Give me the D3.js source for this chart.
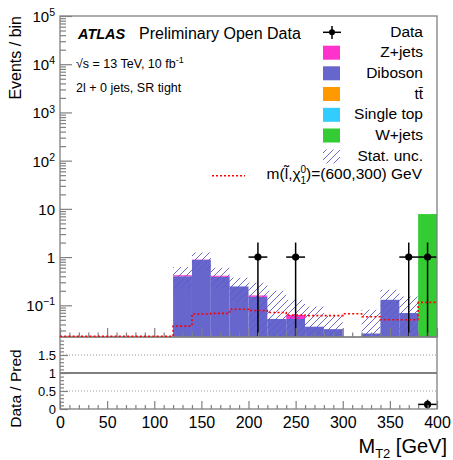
<!DOCTYPE html>
<html>
<head>
<meta charset="utf-8">
<script src="https://cdn.jsdelivr.net/npm/d3@7"></script>
<style>
  body { margin: 0; background: #fff; }
  svg { display: block; font-family: "Liberation Sans", Arial, Helvetica, sans-serif; }
</style>
</head>
<body>
<svg id="chart" width="453" height="460"></svg>
<script>
// M_T2 distribution, 20 GeV bins from 0 to 400 GeV
const binLow = [0, 20, 40, 60, 80, 100, 120, 140, 160, 180, 200, 220, 240, 260, 280, 300, 320, 340, 360, 380];
const binWidth = 20;

// Expected events per bin for each background
const zJets     = [0, 0, 0, 0, 0, 0, 0.02, 0.01, 0.02, 0, 0.01, 0, 0.011, 0, 0, 0, 0, 0, 0, 0];
const diboson   = [0, 0, 0, 0, 0, 0, 0.40, 0.88, 0.39, 0.246, 0.15, 0.052, 0.052, 0.036, 0.032, 0, 0.026, 0.13, 0.069, 0];
const ttbar     = [0, 0, 0, 0, 0, 0, 0, 0, 0, 0, 0, 0, 0, 0, 0, 0, 0, 0, 0, 0];
const singleTop = [0, 0, 0, 0, 0, 0, 0, 0, 0, 0, 0, 0, 0, 0, 0, 0, 0, 0, 0, 0];
const wJets     = [0, 0, 0, 0, 0, 0, 0, 0, 0, 0, 0, 0, 0, 0, 0, 0, 0, 0, 0, 7.8];
// Statistical uncertainty on the summed prediction
const statUnc   = [0, 0, 0, 0, 0, 0, 0.20, 0.36, 0.19, 0.128, 0.134, 0.148, 0.067, 0.058, 0.028, 0, 0.055, 0.08, 0.083, 0];
// Signal m(slepton, neutralino) = (600, 300) GeV
const signal    = [0, 0, 0, 0, 0, 0, 0.037, 0.066, 0.068, 0.083, 0.078, 0.071, 0.063, 0.061, 0.061, 0.067, 0.058, 0.05, 0.05, 0.115];

// Observed events (bin centres)
const dataCenters = [210, 250, 370, 390];
const dataCounts  = [1, 1, 1, 1];

// Axis ticks
const xMajorTicks = [0, 50, 100, 150, 200, 250, 300, 350, 400];
const yDecades = [0.1, 1, 10, 100, 1000, 10000, 100000];
const ratioMajorTicks = [0, 0.5, 1, 1.5];

const colors = {
  zjets: "#ff33cc",
  diboson: "#6666cc",
  ttbar: "#ff9900",
  singletop: "#33ccff",
  wjets: "#33cc33"
};
const hatchColor = "#5a5ac8";

const svg = d3.select("#chart");
const L = 60, R = 437, T = 16, MB = 337, RB = 409;
const axisColor = "#808080";

const x = d3.scaleLinear().domain([0, 400]).range([L, R]);
const yMin = 0.022;
const y = d3.scaleLog().domain([yMin, 1e5]).range([MB, T]);
const yv = v => (v > yMin ? y(v) : y(yMin));
const yr = d3.scaleLinear().domain([0, 2]).range([RB, MB]);

// defs: clip and hatch pattern
const defs = svg.append("defs");
defs.append("clipPath").attr("id", "mainClip")
  .append("rect").attr("x", L).attr("y", T).attr("width", R - L).attr("height", MB - T + 2);
const pat = defs.append("pattern").attr("id", "hatch")
  .attr("patternUnits", "userSpaceOnUse").attr("width", 7).attr("height", 7);
pat.append("path").attr("d", "M0,7 L7,0 M-1,1 L1,-1 M6,8 L8,6")
  .attr("stroke", hatchColor).attr("stroke-width", 0.9).attr("fill", "none");

// Stacked backgrounds
const rows = binLow.map((lo, i) => ({
  lo,
  wjets: wJets[i], singletop: singleTop[i], ttbar: ttbar[i], diboson: diboson[i], zjets: zJets[i]
}));
const stackKeys = ["wjets", "singletop", "ttbar", "diboson", "zjets"];
const layers = d3.stack().keys(stackKeys)(rows);

const main = svg.append("g").attr("clip-path", "url(#mainClip)");
layers.forEach(layer => {
  main.append("g").attr("fill", colors[layer.key])
    .selectAll("rect")
    .data(layer.filter(d => d[1] - d[0] > 0))
    .join("rect")
    .attr("x", d => x(d.data.lo))
    .attr("width", d => x(d.data.lo + binWidth) - x(d.data.lo))
    .attr("y", d => yv(d[1]))
    .attr("height", d => yv(d[0]) - yv(d[1]));
});

// Statistical uncertainty band
const totals = rows.map(r => stackKeys.reduce((s, k) => s + r[k], 0));
main.append("g").selectAll("rect")
  .data(binLow.map((lo, i) => ({ lo, tot: totals[i], unc: statUnc[i] })).filter(d => d.tot > 0 && d.unc > 0))
  .join("rect")
  .attr("x", d => x(d.lo))
  .attr("width", d => x(d.lo + binWidth) - x(d.lo))
  .attr("y", d => yv(d.tot + d.unc))
  .attr("height", d => yv(d.tot - d.unc) - yv(d.tot + d.unc))
  .attr("fill", "url(#hatch)");

// Data points
const dataG = main.append("g");
dataCenters.forEach((c, i) => {
  const n = dataCounts[i], e = Math.sqrt(n);
  dataG.append("line").attr("x1", x(c)).attr("x2", x(c))
    .attr("y1", yv(n + e)).attr("y2", yv(n - e)).attr("stroke", "#000").attr("stroke-width", 1.5);
  dataG.append("line").attr("x1", x(c - binWidth / 2)).attr("x2", x(c + binWidth / 2))
    .attr("y1", y(n)).attr("y2", y(n)).attr("stroke", "#000").attr("stroke-width", 1.5);
  dataG.append("circle").attr("cx", x(c)).attr("cy", y(n)).attr("r", 3.6).attr("fill", "#000");
});

// Ratio panel grid lines
svg.append("g").selectAll("line").data([0.5, 1.5]).join("line")
  .attr("x1", L).attr("x2", R).attr("y1", d => yr(d)).attr("y2", d => yr(d))
  .attr("stroke", "#999").attr("stroke-width", 1).attr("stroke-dasharray", "1,2");
svg.append("line").attr("x1", L).attr("x2", R).attr("y1", yr(1)).attr("y2", yr(1))
  .attr("stroke", "#555").attr("stroke-width", 1.4);

// Ratio points (data / prediction) within range
const ratioG = svg.append("g");
dataCenters.forEach((c, i) => {
  const bi = binLow.findIndex(lo => c >= lo && c < lo + binWidth);
  const pred = totals[bi];
  const r = dataCounts[i] / pred, er = Math.sqrt(dataCounts[i]) / pred;
  if (r < 0 || r > 2) return;
  ratioG.append("line").attr("x1", x(c)).attr("x2", x(c))
    .attr("y1", yr(Math.min(2, r + er))).attr("y2", yr(Math.max(0, r - er)))
    .attr("stroke", "#000").attr("stroke-width", 1.5);
  ratioG.append("line").attr("x1", x(c - binWidth / 2)).attr("x2", x(c + binWidth / 2))
    .attr("y1", yr(r)).attr("y2", yr(r)).attr("stroke", "#000").attr("stroke-width", 1.5);
  ratioG.append("circle").attr("cx", x(c)).attr("cy", yr(r)).attr("r", 3.6).attr("fill", "#000");
});

// Axes helpers
function styleAxis(g) {
  g.select(".domain").remove();
  g.selectAll(".tick line").attr("stroke", axisColor).attr("stroke-width", 1.2);
  g.selectAll(".tick text").attr("fill", "#000");
}

// Main x axis ticks (no labels)
const xMinor = d3.range(0, 401, 10).filter(v => v % 50 !== 0);
svg.append("g").attr("transform", `translate(0,${MB})`)
  .call(d3.axisBottom(x).tickValues(xMinor).tickSize(-4.5).tickFormat(""))
  .call(styleAxis);
svg.append("g").attr("transform", `translate(0,${MB})`)
  .call(d3.axisBottom(x).tickValues(xMajorTicks).tickSize(-9).tickFormat(""))
  .call(styleAxis);

// Ratio x axis with labels
svg.append("g").attr("transform", `translate(0,${RB})`)
  .call(d3.axisBottom(x).tickValues(xMinor).tickSize(-4).tickFormat(""))
  .call(styleAxis);
svg.append("g").attr("transform", `translate(0,${RB})`)
  .call(d3.axisBottom(x).tickValues(xMajorTicks).tickSize(-8).tickPadding(3).tickFormat(d3.format("d")))
  .call(styleAxis)
  .call(g => g.selectAll(".tick text").attr("font-size", 16).attr("y", 4).attr("dy", "0.95em")
    .attr("font-family", "Liberation Sans, Arial, sans-serif"));

// Main y axis: minor then major with exponent labels
const yMinor = [];
[0.01, 0.1, 1, 10, 100, 1000, 10000].forEach(dec => {
  for (let m = 2; m <= 9; m++) { const v = dec * m; if (v >= yMin && v <= 1e5) yMinor.push(v); }
});
svg.append("g").attr("transform", `translate(${L},0)`)
  .call(d3.axisLeft(y).tickValues(yMinor).tickSize(-6).tickFormat(""))
  .call(styleAxis);
svg.append("g").attr("transform", `translate(${L},0)`)
  .call(d3.axisLeft(y).tickValues(yDecades).tickSize(-12).tickPadding(5).tickFormat(""))
  .call(styleAxis)
  .call(g => g.selectAll(".tick").each(function (d) {
    const e = Math.round(Math.log10(d));
    const t = d3.select(this).append("text")
      .attr("x", -5).attr("dy", "0.36em").attr("text-anchor", "end")
      .attr("font-size", 15).attr("fill", "#000")
      .attr("font-family", "Liberation Sans, Arial, sans-serif");
    if (e === 0) t.text("1");
    else if (e === 1) t.text("10");
    else {
      t.append("tspan").text("10");
      t.append("tspan").attr("font-size", 10.5).attr("dy", "-0.55em").text(String(e).replace("-", "\u2212"));
    }
  }));

// Ratio y axis
svg.append("g").attr("transform", `translate(${L},0)`)
  .call(d3.axisLeft(yr).tickValues(d3.range(0.1, 2, 0.1).filter(v => Math.abs(v * 2 - Math.round(v * 2)) > 1e-6)).tickSize(-4).tickFormat(""))
  .call(styleAxis);
svg.append("g").attr("transform", `translate(${L},0)`)
  .call(d3.axisLeft(yr).tickValues(ratioMajorTicks).tickSize(-8).tickPadding(4).tickFormat(d => d3.format("")(d)))
  .call(styleAxis)
  .call(g => g.selectAll(".tick text").attr("font-size", 13)
    .attr("font-family", "Liberation Sans, Arial, sans-serif"));

// Frames
svg.append("rect").attr("x", L).attr("y", T).attr("width", R - L).attr("height", MB - T)
  .attr("fill", "none").attr("stroke", axisColor).attr("stroke-width", 1.3);
svg.append("rect").attr("x", L).attr("y", MB).attr("width", R - L).attr("height", RB - MB)
  .attr("fill", "none").attr("stroke", axisColor).attr("stroke-width", 1.3);

// Signal step line, drawn above the frame so the zero bins stay visible
const sigPts = [];
binLow.forEach((lo, i) => { sigPts.push([lo, signal[i]]); sigPts.push([lo + binWidth, signal[i]]); });
svg.append("path")
  .attr("d", d3.line().x(d => x(d[0])).y(d => yv(d[1]) - (d[1] > yMin ? 0 : 0.8))(sigPts))
  .attr("fill", "none").attr("stroke", "#ff0000").attr("stroke-width", 1.6)
  .attr("stroke-dasharray", "2,2.2");

// Axis titles
svg.append("text").attr("transform", "translate(20.5,16) rotate(-90)")
  .attr("text-anchor", "end").attr("font-size", 16).text("Events / bin");
svg.append("text").attr("transform", "translate(20.5,388.5) rotate(-90)")
  .attr("text-anchor", "middle").attr("font-size", 15.5).text("Data / Pred");
const xt = svg.append("text").attr("x", 447).attr("y", 453).attr("text-anchor", "end").attr("font-size", 20);
xt.append("tspan").text("M");
xt.append("tspan").attr("font-size", 13).attr("dy", 5).text("T2");
xt.append("tspan").attr("dy", -5).text(" [GeV]");

// Labels
svg.append("text").attr("x", 78).attr("y", 39).attr("font-size", 14.5)
  .attr("font-weight", "bold").attr("font-style", "italic").text("ATLAS");
svg.append("text").attr("x", 139).attr("y", 39).attr("font-size", 16).text("Preliminary Open Data");
const lum = svg.append("text").attr("x", 76).attr("y", 67.5).attr("font-size", 12.5);
lum.append("tspan").text("\u221As = 13 TeV, 10 fb");
lum.append("tspan").attr("font-size", 9).attr("dy", -5).text("-1");
svg.append("text").attr("x", 76).attr("y", 92).attr("font-size", 12.5).text("2l + 0 jets, SR tight");

// Legend
const legend = svg.append("g");
const lgTextX = 423, lgBoxX = 323, lgBoxW = 17, lgBoxH = 14;
// Data
legend.append("line").attr("x1", 323).attr("x2", 341).attr("y1", 32.3).attr("y2", 32.3).attr("stroke", "#000").attr("stroke-width", 1.5);
legend.append("line").attr("x1", 332).attr("x2", 332).attr("y1", 26).attr("y2", 39).attr("stroke", "#000").attr("stroke-width", 1.5);
legend.append("circle").attr("cx", 332).attr("cy", 32.3).attr("r", 3).attr("fill", "#000");
legend.append("text").attr("x", lgTextX).attr("y", 36.7).attr("text-anchor", "end").attr("font-size", 15.5).text("Data");

const lgEntries = [
  { key: "zjets", label: "Z+jets", base: 57.2 },
  { key: "diboson", label: "Diboson", base: 77.8 },
  { key: "ttbar", label: "t t\u0304", base: 98.5 },
  { key: "singletop", label: "Single top", base: 119.3 },
  { key: "wjets", label: "W+jets", base: 140 }
];
lgEntries.forEach(e => {
  legend.append("rect").attr("x", lgBoxX).attr("y", e.base - 11.5).attr("width", lgBoxW).attr("height", lgBoxH)
    .attr("fill", colors[e.key]);
  const t = legend.append("text").attr("x", lgTextX).attr("y", e.base).attr("text-anchor", "end").attr("font-size", 15.5);
  if (e.key === "ttbar") {
    t.append("tspan").text("t");
    t.append("tspan").text("t\u0304");
  } else t.text(e.label);
});
// Stat. unc.
legend.append("rect").attr("x", lgBoxX).attr("y", 149.5).attr("width", lgBoxW).attr("height", 14).attr("fill", "url(#hatch)");
legend.append("text").attr("x", lgTextX).attr("y", 160.5).attr("text-anchor", "end").attr("font-size", 15.5).text("Stat. unc.");
// Signal
legend.append("line").attr("x1", 212).attr("x2", 245).attr("y1", 175.7).attr("y2", 175.7)
  .attr("stroke", "#ff0000").attr("stroke-width", 1.5).attr("stroke-dasharray", "2,2");
const sg = legend.append("text").attr("x", 422).attr("y", 179).attr("text-anchor", "end").attr("font-size", 15.5);
sg.append("tspan").text("m(l\u0303,\u03C7");
sg.append("tspan").attr("font-size", 10).attr("dy", -6.5).text("0");
sg.append("tspan").attr("font-size", 10).attr("dx", -5.6).attr("dy", 11).text("1");
sg.append("tspan").attr("dy", -4.5).text(")=(600,300) GeV");
</script>
</body>
</html>
